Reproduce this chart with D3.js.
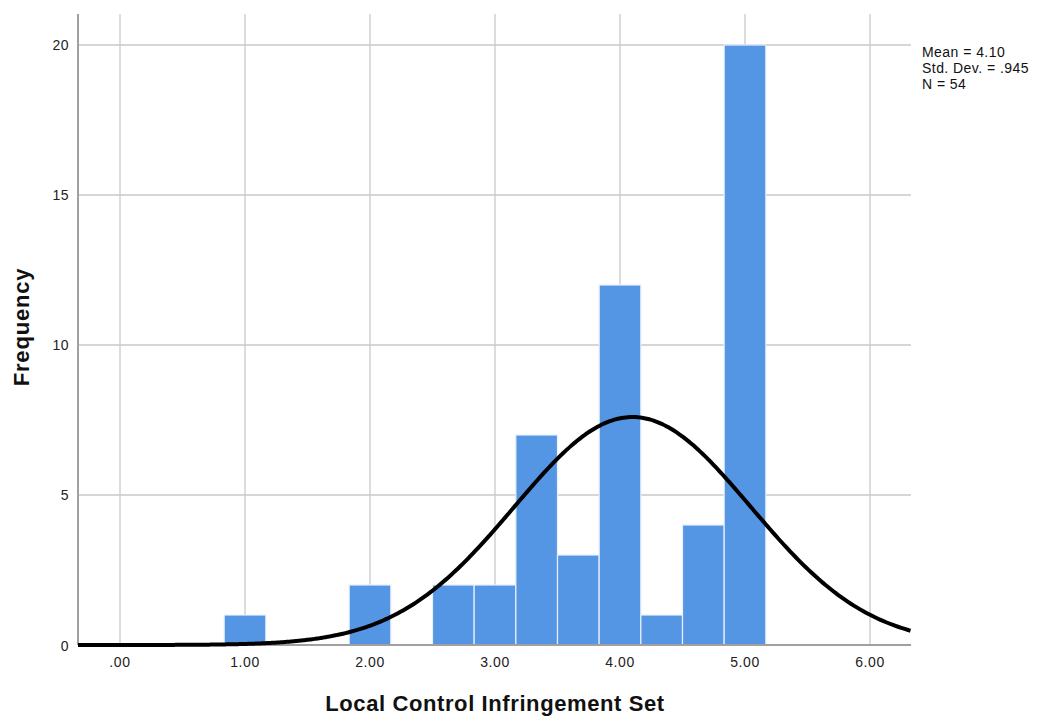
<!DOCTYPE html>
<html><head><meta charset="utf-8">
<script src="https://cdn.jsdelivr.net/npm/d3@7"></script>
<style>body{margin:0;background:#fff}svg{display:block}text{font-family:"Liberation Sans",Arial,sans-serif}</style>
</head><body>
<svg id="c" width="1038" height="717"></svg>
<script>
const binStarts = [0.8333, 1.8333, 2.5, 2.8333, 3.1667, 3.5, 3.8333, 4.1667, 4.5, 4.8333];
const binWidth = 1/3;
const counts = [1, 2, 2, 2, 7, 3, 12, 1, 4, 20];
const xTicks = [0, 1, 2, 3, 4, 5, 6];
const xTickLabels = [".00", "1.00", "2.00", "3.00", "4.00", "5.00", "6.00"];
const yTicks = [0, 5, 10, 15, 20];
const stats = ["Mean = 4.10", "Std. Dev. = .945", "N = 54"];
const mean = 4.10, sd = 0.945, n = 54;

const svg = d3.select("#c");
const L = 78, R = 911, T = 14, B = 645;
const x = d3.scaleLinear().domain([-0.336, 6.328]).range([L, R]);
const y = d3.scaleLinear().domain([0, 21.033]).range([B, T]);

// gridlines
svg.append("g").selectAll("line").data(yTicks.filter(d => d > 0)).join("line")
  .attr("x1", L).attr("x2", R).attr("y1", d => y(d)).attr("y2", d => y(d))
  .attr("stroke", "#c9c9c9").attr("stroke-width", 1.3);
svg.append("g").selectAll("line").data(xTicks).join("line")
  .attr("x1", d => x(d)).attr("x2", d => x(d)).attr("y1", T).attr("y2", B)
  .attr("stroke", "#c9c9c9").attr("stroke-width", 1.3);

// bars
svg.append("g").selectAll("rect").data(binStarts).join("rect")
  .attr("x", d => x(d)).attr("width", x(binWidth) - x(0))
  .attr("y", (d, i) => y(counts[i])).attr("height", (d, i) => B - y(counts[i]))
  .attr("fill", "#5596e4").attr("stroke", "#e8f0fb").attr("stroke-width", 1.2);

// axes lines
svg.append("line").attr("x1", L).attr("x2", L).attr("y1", T).attr("y2", B)
  .attr("stroke", "#a0a0a0").attr("stroke-width", 2);
svg.append("line").attr("x1", L).attr("x2", R).attr("y1", B).attr("y2", B)
  .attr("stroke", "#a0a0a0").attr("stroke-width", 2);

// normal curve
svg.append("clipPath").attr("id", "clip").append("rect")
  .attr("x", L).attr("y", T - 5).attr("width", R - L).attr("height", B - T + 10);
const pts = d3.range(x.domain()[0], x.domain()[1] + 0.01, 0.02).map(v =>
  [v, n * binWidth * Math.exp(-0.5 * ((v - mean) / sd) ** 2) / (sd * Math.sqrt(2 * Math.PI))]);
svg.append("path").datum(pts).attr("clip-path", "url(#clip)")
  .attr("d", d3.line().x(d => x(d[0])).y(d => y(d[1])).curve(d3.curveBasis))
  .attr("fill", "none").attr("stroke", "#000").attr("stroke-width", 4);

// tick labels
svg.append("g").selectAll("text").data(xTicks).join("text")
  .attr("x", d => x(d)).attr("y", 667).attr("text-anchor", "middle")
  .attr("font-size", 14).attr("letter-spacing", 0.6).attr("fill", "#222").text((d, i) => xTickLabels[i]);
svg.append("g").selectAll("text").data(yTicks).join("text")
  .attr("x", 69).attr("y", d => y(d) + 5.5).attr("text-anchor", "end")
  .attr("font-size", 14).attr("letter-spacing", 0.5).attr("fill", "#222").text(d => d);

// axis titles
svg.append("text").attr("x", 495).attr("y", 711).attr("text-anchor", "middle")
  .attr("font-size", 22).attr("letter-spacing", 0.6).attr("font-weight", "bold").attr("fill", "#111")
  .text("Local Control Infringement Set");
svg.append("text").attr("transform", "translate(29,327) rotate(-90)").attr("text-anchor", "middle")
  .attr("font-size", 22).attr("letter-spacing", 0.8).attr("font-weight", "bold").attr("fill", "#111").text("Frequency");

// stats
svg.append("g").selectAll("text").data(stats).join("text")
  .attr("x", 922).attr("y", (d, i) => 56.5 + i * 16.3)
  .attr("font-size", 14).attr("letter-spacing", 0.45).attr("fill", "#111").text(d => d);
</script>
</body></html>
